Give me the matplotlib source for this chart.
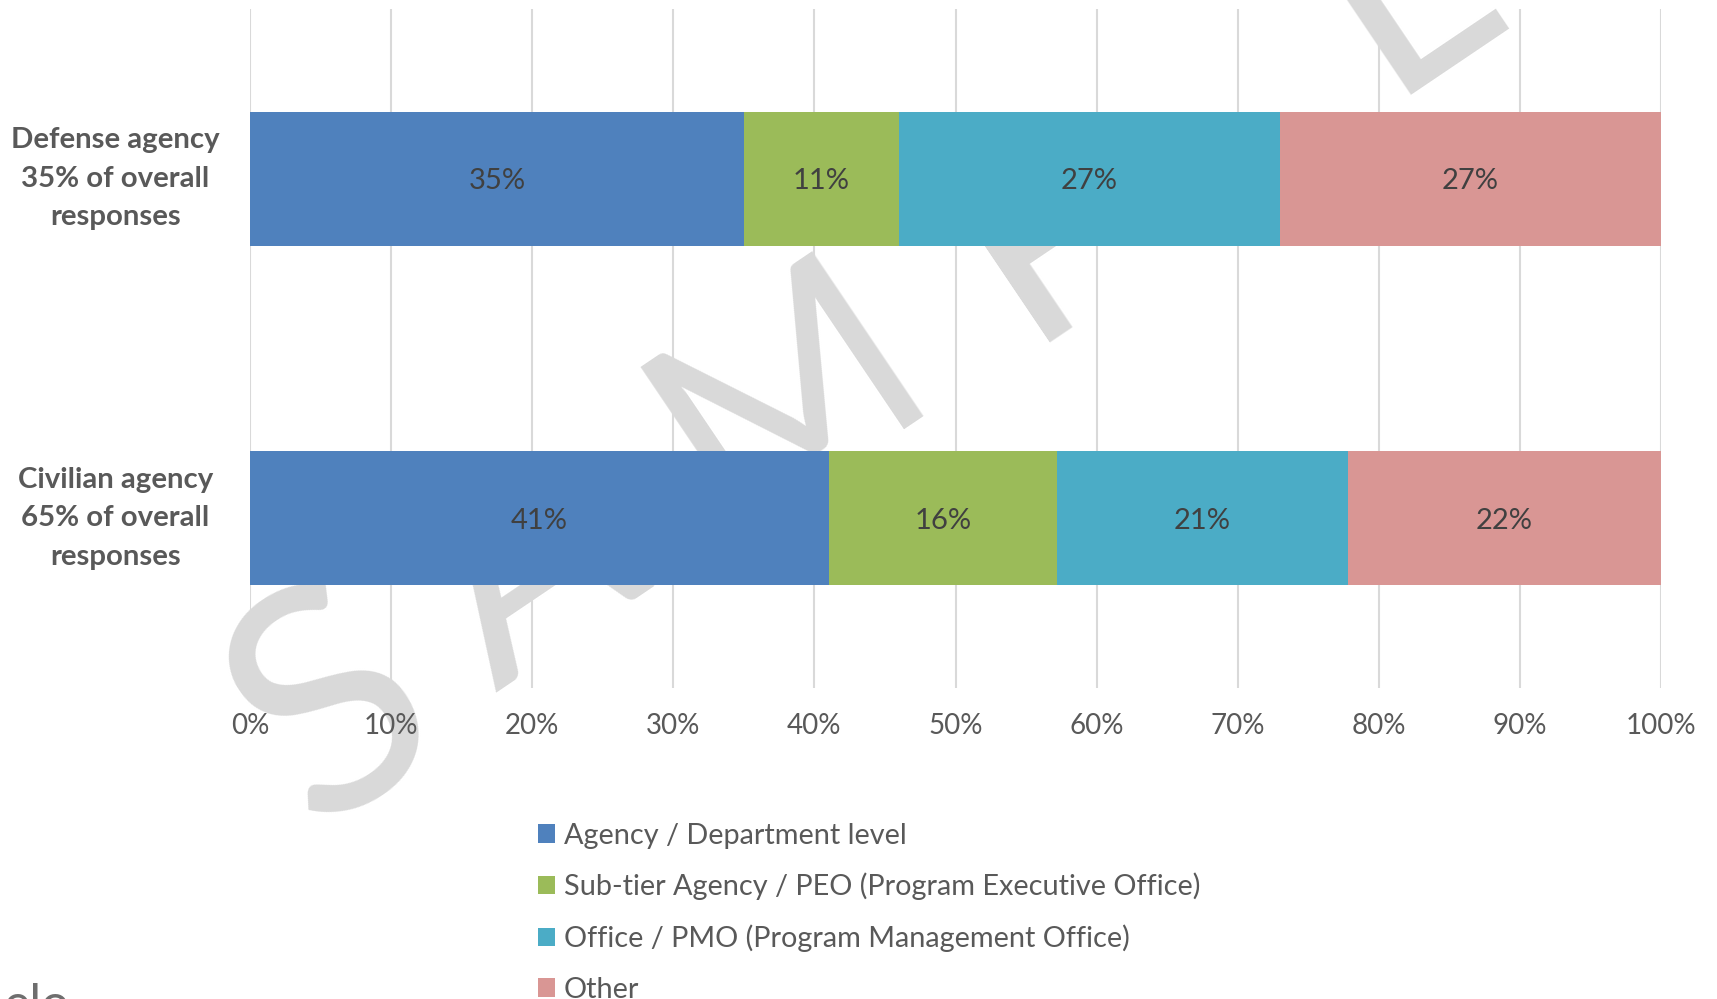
import matplotlib
matplotlib.use("Agg")
import matplotlib.pyplot as plt
from matplotlib.patches import Patch

categories = ["Defense agency\n35% of overall\nresponses", "Civilian agency\n65% of overall\nresponses"]
series_names = ["Agency / Department level",
                "Sub-tier Agency / PEO (Program Executive Office)",
                "Office / PMO (Program Management Office)",
                "Other"]
agency_dept = [35.0, 41.0]
sub_tier = [11.0, 16.2]
office_pmo = [27.0, 20.6]
other = [27.0, 22.2]
xticks = [0, 10, 20, 30, 40, 50, 60, 70, 80, 90, 100]
xtick_labels = [f"{v}%" for v in xticks]

colors = ["#4F81BD", "#9BBB59", "#4BACC6", "#D99694"]
FONT = "Lato"
W, H = 1717, 999

fig = plt.figure(figsize=(W / 100, H / 100), dpi=100)
ax = fig.add_axes([250 / W, 1 - 688 / H, 1411 / W, 679 / H])

# watermark (behind gridlines and bars)
wm_letters = ["S", "A", "M", "P", "L", "E"]
wm_pos = [(335, 712), (530, 572), (790, 395), (1050, 228), (1400, -15), (1640, -180)]
wm_size = [225, 205, 200, 205, 210, 210]
for ch, (px, py), fs in zip(wm_letters, wm_pos, wm_size):
    fig.text(px / W, 1 - py / H, ch, fontsize=fs, family=FONT, color="#D9D9D9",
             rotation=34, ha="center", va="center", zorder=0)

ax.set_zorder(1)
ax.patch.set_alpha(0)

series = [agency_dept, sub_tier, office_pmo, other]
ypos = list(range(len(categories)))
left = [0.0] * len(categories)
for vals, col in zip(series, colors):
    ax.barh(ypos, vals, left=left, height=0.395, color=col, zorder=3)
    for i, (v, l) in enumerate(zip(vals, left)):
        ax.text(l + v / 2, ypos[i], f"{round(v):d}%", ha="center", va="center_baseline",
                fontsize=21, family=FONT, color="#404040", zorder=4)
    left = [a + b for a, b in zip(left, vals)]

ax.set_xlim(0, 100)
ax.set_ylim(1.5, -0.5)
ax.set_xticks(xticks)
ax.set_xticklabels(xtick_labels, family=FONT, fontsize=20, color="#595959")
ax.set_yticks(ypos)
ax.set_yticklabels(categories, family=FONT, fontsize=21.2, fontweight="bold",
                   color="#595959", linespacing=1.6, ha="center", va="center")
ax.tick_params(axis="y", length=0, pad=97)
ax.tick_params(axis="x", length=0, pad=18)
ax.grid(axis="x", color="#D9D9D9", linewidth=1.5, zorder=1)
ax.set_axisbelow(True)
for s in ax.spines.values():
    s.set_visible(False)

handles = [Patch(facecolor=c, edgecolor="none") for c in colors]
fig.legend(handles, series_names, loc="upper left",
           bbox_to_anchor=(526 / W, 1 - 811 / H), frameon=False,
           prop={"family": FONT, "size": 20.8}, labelcolor="#595959",
           handlelength=0.6, handleheight=0.6, handletextpad=0.3,
           labelspacing=0.84, borderaxespad=0)

fig.text(4 / W, 1 - 1020 / H, "elo", fontsize=36, family=FONT, color="#6E6E6E",
         ha="left", va="baseline")

fig.savefig("out.png", dpi=100, facecolor="white")
